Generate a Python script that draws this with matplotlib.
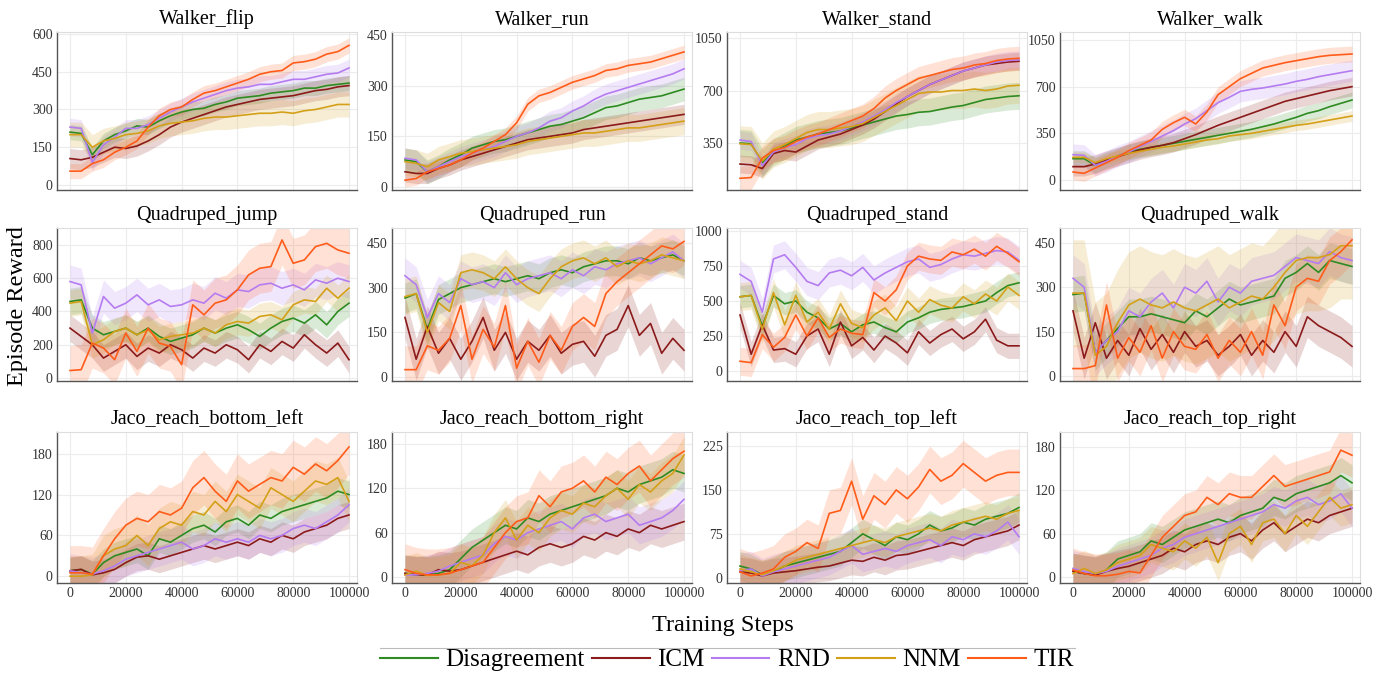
import numpy as np
import matplotlib
matplotlib.use("Agg")
import matplotlib.pyplot as plt
from matplotlib.lines import Line2D

plt.rcParams["font.family"] = ["Liberation Serif", "DejaVu Serif"]

# training steps (every 4000)
steps = np.arange(0, 100001, 4000)

methods = ["Disagreement", "ICM", "RND", "NNM", "TIR"]
colors = ["#2e8b22", "#8b1a1a", "#b47cf0", "#d4a017", "#ff5c1a"]

# ---- Walker ----
walker_flip = {
    "Disagreement": [210, 205, 120, 175, 200, 215, 235, 230, 255, 275, 290, 300, 305, 320, 330, 345, 350, 355, 365, 370, 375, 385, 385, 395, 400, 405],
    "ICM": [105, 100, 110, 130, 150, 145, 155, 175, 200, 230, 250, 265, 280, 295, 310, 320, 330, 340, 345, 350, 355, 365, 375, 380, 390, 395],
    "RND": [230, 225, 90, 160, 190, 225, 225, 240, 265, 290, 310, 330, 345, 360, 375, 385, 390, 400, 400, 410, 420, 420, 430, 440, 445, 465],
    "NNM": [200, 200, 150, 175, 185, 200, 205, 215, 235, 245, 250, 255, 265, 270, 270, 275, 280, 285, 285, 290, 285, 295, 300, 310, 320, 320],
    "TIR": [55, 55, 85, 100, 130, 150, 175, 230, 275, 300, 310, 340, 365, 375, 390, 405, 420, 440, 450, 455, 485, 490, 500, 520, 530, 555],
}
walker_run = {
    "Disagreement": [80, 75, 45, 60, 80, 95, 115, 125, 135, 140, 150, 160, 170, 180, 185, 195, 205, 220, 235, 240, 250, 260, 265, 270, 280, 290],
    "ICM": [45, 40, 40, 55, 65, 80, 90, 100, 110, 120, 130, 140, 145, 150, 155, 160, 170, 175, 180, 185, 190, 195, 200, 205, 210, 215],
    "RND": [85, 80, 45, 60, 75, 90, 100, 110, 120, 135, 150, 160, 175, 195, 205, 225, 240, 260, 275, 285, 295, 305, 315, 325, 335, 350],
    "NNM": [75, 70, 60, 80, 90, 100, 105, 110, 115, 120, 125, 135, 140, 145, 150, 155, 160, 160, 165, 170, 175, 175, 180, 185, 190, 195],
    "TIR": [20, 25, 45, 55, 65, 80, 100, 115, 135, 155, 190, 245, 270, 280, 295, 310, 320, 330, 345, 350, 360, 365, 370, 380, 390, 400],
}
walker_stand = {
    "Disagreement": [350, 345, 220, 290, 330, 370, 390, 410, 420, 430, 450, 470, 490, 510, 530, 540, 555, 560, 575, 590, 600, 620, 640, 650, 660, 665],
    "ICM": [210, 205, 180, 280, 300, 290, 330, 370, 390, 410, 440, 470, 510, 560, 610, 660, 700, 740, 770, 800, 830, 850, 870, 880, 890, 895],
    "RND": [370, 360, 200, 290, 320, 340, 380, 400, 410, 430, 460, 490, 530, 570, 620, 660, 700, 740, 770, 800, 830, 850, 870, 890, 900, 905],
    "NNM": [345, 340, 230, 310, 340, 380, 420, 440, 440, 450, 460, 480, 520, 560, 600, 640, 680, 690, 690, 700, 700, 710, 700, 710, 730, 735],
    "TIR": [115, 120, 250, 300, 320, 360, 390, 410, 440, 470, 500, 530, 580, 650, 700, 740, 780, 800, 820, 840, 850, 870, 880, 900, 910, 915],
}
walker_walk = {
    "Disagreement": [160, 160, 110, 150, 180, 210, 230, 245, 260, 275, 290, 305, 320, 335, 350, 365, 380, 400, 420, 445, 470, 500, 520, 550, 575, 600],
    "ICM": [100, 100, 120, 150, 175, 200, 225, 245, 260, 280, 310, 340, 375, 410, 440, 470, 500, 530, 560, 590, 610, 630, 650, 670, 685, 700],
    "RND": [190, 185, 110, 140, 180, 210, 250, 290, 330, 370, 420, 460, 520, 580, 620, 665, 680, 690, 705, 720, 740, 755, 775, 790, 805, 820],
    "NNM": [170, 170, 130, 160, 180, 200, 215, 230, 245, 255, 270, 285, 300, 310, 330, 340, 350, 365, 380, 395, 410, 420, 435, 450, 465, 480],
    "TIR": [60, 50, 90, 130, 170, 220, 260, 300, 380, 430, 470, 420, 510, 640, 700, 760, 800, 840, 860, 880, 895, 910, 925, 935, 940, 945],
}

# ---- Quadruped ----
quadruped_jump = {
    "Disagreement": [460, 470, 300, 260, 280, 300, 260, 300, 250, 220, 240, 260, 300, 270, 300, 320, 290, 250, 300, 340, 360, 330, 380, 320, 400, 450],
    "ICM": [300, 250, 200, 120, 160, 200, 130, 180, 150, 200, 170, 120, 180, 150, 200, 170, 110, 200, 160, 220, 180, 260, 200, 150, 210, 110],
    "RND": [580, 560, 270, 490, 420, 450, 500, 440, 470, 430, 440, 470, 450, 510, 480, 530, 520, 560, 570, 540, 560, 530, 590, 570, 600, 580],
    "NNM": [450, 460, 200, 230, 280, 300, 260, 290, 230, 250, 260, 270, 300, 270, 320, 340, 330, 370, 380, 350, 440, 470, 460, 540, 480, 540],
    "TIR": [45, 50, 210, 180, 110, 270, 160, 300, 210, 190, 80, 440, 380, 450, 470, 530, 620, 660, 670, 830, 690, 710, 790, 810, 770, 750],
}
quadruped_run = {
    "Disagreement": [265, 280, 160, 260, 280, 300, 310, 320, 330, 320, 330, 340, 330, 350, 360, 350, 370, 380, 390, 390, 380, 400, 390, 400, 410, 390],
    "ICM": [200, 60, 170, 80, 130, 60, 120, 200, 90, 150, 60, 120, 90, 140, 80, 110, 120, 70, 140, 160, 240, 140, 180, 80, 130, 90],
    "RND": [340, 310, 200, 280, 250, 330, 310, 320, 300, 350, 310, 330, 340, 350, 330, 360, 340, 370, 360, 380, 390, 400, 380, 400, 420, 390],
    "NNM": [270, 280, 150, 250, 220, 350, 360, 350, 330, 370, 330, 300, 280, 330, 370, 390, 400, 380, 400, 370, 390, 380, 390, 410, 400, 390],
    "TIR": [25, 25, 105, 90, 130, 240, 60, 160, 100, 240, 30, 120, 50, 140, 90, 170, 200, 170, 280, 320, 350, 380, 410, 440, 430, 455],
}
quadruped_stand = {
    "Disagreement": [530, 540, 320, 540, 480, 500, 420, 380, 300, 340, 280, 330, 350, 310, 280, 350, 380, 420, 440, 450, 460, 480, 500, 560, 610, 630],
    "ICM": [400, 120, 330, 150, 160, 120, 250, 300, 120, 350, 180, 240, 150, 250, 200, 130, 280, 200, 260, 300, 230, 280, 370, 220, 180, 180],
    "RND": [690, 640, 420, 800, 830, 740, 640, 610, 700, 720, 680, 740, 650, 700, 740, 780, 800, 740, 760, 800, 830, 820, 840, 860, 850, 790],
    "NNM": [530, 540, 300, 560, 330, 540, 350, 420, 300, 480, 340, 310, 400, 450, 360, 500, 420, 510, 470, 450, 530, 480, 550, 500, 600, 540],
    "TIR": [70, 60, 260, 170, 240, 400, 250, 380, 240, 300, 270, 260, 560, 500, 580, 750, 820, 800, 790, 850, 830, 870, 820, 890, 840, 780],
}
quadruped_walk = {
    "Disagreement": [275, 280, 80, 120, 160, 200, 200, 210, 200, 190, 180, 220, 200, 230, 260, 240, 250, 260, 270, 330, 350, 380, 350, 390, 380, 370],
    "ICM": [220, 60, 180, 60, 120, 70, 160, 90, 140, 80, 150, 100, 120, 70, 100, 140, 70, 120, 80, 150, 100, 200, 170, 150, 130, 100],
    "RND": [330, 300, 80, 120, 150, 220, 200, 250, 280, 230, 300, 280, 320, 250, 300, 280, 320, 330, 340, 370, 400, 390, 380, 420, 400, 390],
    "NNM": [280, 280, 70, 100, 180, 240, 260, 240, 230, 250, 230, 220, 240, 260, 230, 250, 270, 260, 300, 350, 390, 400, 400, 410, 440, 440],
    "TIR": [25, 25, 35, 240, 60, 130, 80, 170, 60, 150, 100, 90, 140, 60, 120, 80, 150, 70, 240, 170, 300, 330, 320, 390, 420, 460],
}

# ---- Jaco ----
jaco_bottom_left = {
    "Disagreement": [8, 10, 3, 20, 30, 35, 40, 30, 55, 50, 60, 70, 75, 65, 80, 85, 75, 90, 85, 95, 100, 105, 110, 115, 125, 120],
    "ICM": [8, 10, 2, 5, 10, 20, 28, 30, 25, 30, 35, 40, 45, 40, 45, 50, 45, 55, 50, 60, 55, 65, 70, 75, 85, 90],
    "RND": [8, 5, 3, 8, 15, 25, 30, 35, 40, 45, 50, 40, 45, 55, 50, 55, 50, 60, 55, 60, 70, 75, 70, 80, 90, 105],
    "NNM": [0, 0, 2, 30, 40, 45, 60, 45, 70, 80, 75, 95, 90, 110, 95, 120, 110, 100, 130, 120, 110, 125, 140, 135, 145, 110],
    "TIR": [5, 5, 3, 30, 55, 75, 85, 80, 95, 90, 100, 130, 145, 125, 110, 140, 125, 135, 145, 140, 160, 150, 165, 155, 170, 190],
}
jaco_bottom_right = {
    "Disagreement": [5, 3, 3, 5, 10, 25, 40, 50, 60, 70, 65, 80, 75, 85, 90, 95, 100, 105, 110, 120, 115, 125, 130, 135, 145, 140],
    "ICM": [5, 3, 3, 10, 8, 10, 15, 20, 25, 30, 35, 30, 40, 45, 40, 45, 55, 50, 60, 55, 65, 60, 70, 65, 70, 75],
    "RND": [3, 3, 5, 8, 15, 20, 25, 30, 45, 55, 50, 60, 65, 70, 75, 65, 80, 85, 75, 80, 85, 70, 75, 80, 90, 105],
    "NNM": [3, 8, 2, 3, 5, 20, 15, 30, 60, 80, 50, 70, 60, 80, 90, 85, 100, 95, 110, 120, 105, 125, 115, 130, 140, 165],
    "TIR": [10, 5, 3, 3, 5, 10, 15, 20, 40, 60, 75, 80, 110, 95, 115, 120, 130, 115, 135, 125, 140, 150, 130, 145, 160, 170],
}
jaco_top_left = {
    "Disagreement": [20, 15, 5, 10, 20, 25, 30, 35, 40, 45, 60, 75, 65, 55, 70, 65, 75, 90, 80, 85, 95, 90, 100, 105, 110, 120],
    "ICM": [10, 8, 3, 8, 10, 12, 15, 18, 20, 25, 30, 28, 35, 30, 38, 40, 45, 50, 55, 60, 55, 65, 70, 75, 80, 90],
    "RND": [12, 15, 3, 10, 15, 20, 25, 30, 35, 45, 55, 40, 45, 50, 45, 55, 60, 65, 55, 70, 65, 75, 70, 80, 95, 70],
    "NNM": [15, 10, 5, 12, 20, 30, 35, 40, 45, 50, 55, 60, 65, 60, 70, 75, 80, 85, 80, 90, 95, 100, 105, 100, 110, 115],
    "TIR": [10, 3, 8, 15, 35, 45, 60, 50, 110, 115, 165, 100, 140, 125, 150, 135, 155, 185, 165, 175, 195, 180, 165, 175, 180, 180],
}
jaco_top_right = {
    "Disagreement": [8, 5, 3, 10, 25, 30, 35, 50, 45, 55, 65, 70, 75, 80, 75, 85, 90, 95, 110, 105, 115, 120, 125, 130, 140, 130],
    "ICM": [8, 5, 3, 8, 12, 15, 20, 25, 30, 40, 35, 45, 50, 45, 55, 60, 50, 65, 75, 60, 70, 80, 75, 85, 90, 95],
    "RND": [12, 8, 5, 8, 15, 20, 25, 30, 40, 45, 55, 60, 65, 70, 75, 80, 85, 90, 100, 95, 105, 110, 100, 105, 115, 95],
    "NNM": [5, 12, 5, 10, 20, 25, 30, 45, 40, 35, 50, 40, 55, 20, 60, 70, 45, 75, 80, 60, 85, 70, 90, 110, 95, 100],
    "TIR": [10, 5, 2, 2, 4, 8, 6, 30, 55, 70, 85, 90, 110, 100, 115, 110, 110, 125, 140, 125, 130, 135, 140, 145, 175, 168],
}

# std band half-width per method (Disagreement, ICM, RND, NNM, TIR)
bands = {
    "Walker_flip": [30, 40, 35, 50, 30],
    "Walker_run": [35, 30, 30, 40, 20],
    "Walker_stand": [90, 60, 60, 120, 80],
    "Walker_walk": [60, 70, 80, 40, 60],
    "Quadruped_jump": [80, 80, 100, 80, 150],
    "Quadruped_run": [50, 70, 60, 60, 80],
    "Quadruped_stand": [80, 90, 100, 100, 100],
    "Quadruped_walk": [60, 70, 80, 180, 80],
    "Jaco_reach_bottom_left": [20, 20, 25, 30, 40],
    "Jaco_reach_bottom_right": [25, 25, 25, 25, 35],
    "Jaco_reach_top_left": [25, 25, 30, 25, 40],
    "Jaco_reach_top_right": [25, 25, 25, 25, 30],
}

panels = [
    ("Walker_flip", walker_flip, (-20, 608), [0, 150, 300, 450, 600]),
    ("Walker_run", walker_run, (-9, 459), [0, 150, 300, 450]),
    ("Walker_stand", walker_stand, (37, 1090), [350, 700, 1050]),
    ("Walker_walk", walker_walk, (-75, 1110), [0, 350, 700, 1050]),
    ("Quadruped_jump", quadruped_jump, (-18, 902), [0, 200, 400, 600, 800]),
    ("Quadruped_run", quadruped_run, (-13, 500), [0, 150, 300, 450]),
    ("Quadruped_stand", quadruped_stand, (-71, 1021), [0, 250, 500, 750, 1000]),
    ("Quadruped_walk", quadruped_walk, (-17, 500), [0, 150, 300, 450]),
    ("Jaco_reach_bottom_left", jaco_bottom_left, (-10, 212), [0, 60, 120, 180]),
    ("Jaco_reach_bottom_right", jaco_bottom_right, (-8, 196), [0, 60, 120, 180]),
    ("Jaco_reach_top_left", jaco_top_left, (-9, 249), [0, 75, 150, 225]),
    ("Jaco_reach_top_right", jaco_top_right, (-8, 200), [0, 60, 120, 180]),
]

W, H = 1390, 673
fig = plt.figure(figsize=(W / 100, H / 100), dpi=100)

col_left = [57, 392, 727, 1060]
rows = [(32, 190), (228, 381), (432, 583)]
ax_w = 300

for i, (title, data, ylim, yticks) in enumerate(panels):
    r, c = divmod(i, 4)
    top, bot = rows[r]
    ax = fig.add_axes([col_left[c] / W, 1 - bot / H, ax_w / W, (bot - top) / H])
    for m, col, s in zip(methods, colors, bands[title]):
        v = np.array(data[m], dtype=float)
        ax.fill_between(steps, v - s, v + s, color=col, alpha=0.18, lw=0)
        ax.plot(steps, v, color=col, lw=1.2)
    ax.set_xlim(-4660, 102870)
    ax.set_ylim(*ylim)
    ax.set_yticks(yticks)
    ax.set_xticks(np.arange(0, 100001, 20000))
    ax.grid(True, color="#ececec", lw=0.8)
    ax.set_axisbelow(True)
    ax.tick_params(length=0, labelsize=10, colors="#333333", pad=3)
    if r < 2:
        ax.set_xticklabels([])
    else:
        ax.ticklabel_format(axis="x", style="plain", useOffset=False)
    for side in ["left", "bottom"]:
        ax.spines[side].set_color("#555555")
        ax.spines[side].set_linewidth(1.0)
    for side in ["top", "right"]:
        ax.spines[side].set_color("#dddddd")
        ax.spines[side].set_linewidth(0.8)
    ax.set_title(title, fontsize=14.5, pad=6)

fig.text(18 / W, 1 - 306 / H, "Episode Reward", rotation=90, fontsize=17.5,
         ha="center", va="center")
fig.text(723 / W, 1 - 625 / H, "Training Steps", fontsize=17.5,
         ha="center", va="center")

# thin rule above the legend
fig.add_artist(Line2D([380 / W, 1075 / W], [1 - 648 / H, 1 - 648 / H],
                      color="#bbbbbb", lw=0.8))

handles = [Line2D([], [], color=c, lw=1.5) for c in colors]
fig.legend(handles, methods, loc="center", bbox_to_anchor=(727 / W, 1 - 660 / H),
           ncol=5, frameon=False, fontsize=18, handlelength=2.3,
           handletextpad=0.3, columnspacing=0.3, borderpad=0)

fig.savefig("out.png", dpi=100, facecolor="white")
